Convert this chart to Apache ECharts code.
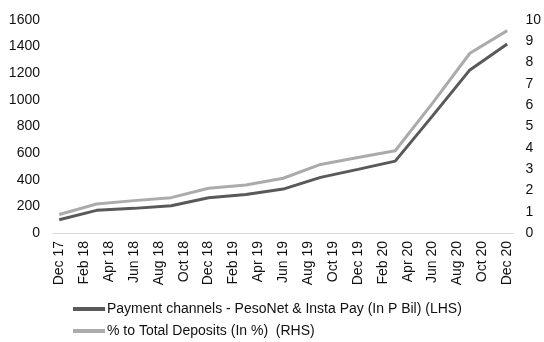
<!DOCTYPE html>
<html>
<head>
<meta charset="utf-8">
<script src="https://cdn.jsdelivr.net/npm/echarts@6/dist/echarts.min.js"></script>
<style>
  html, body { margin: 0; padding: 0; background: #fff; }
  #chart { width: 544px; height: 342px; }
</style>
</head>
<body>
<div id="chart"></div>
<script>
// Monthly axis, Dec 2017 – Dec 2020
const monthNames = ['Jan','Feb','Mar','Apr','May','Jun','Jul','Aug','Sep','Oct','Nov','Dec'];
const months = [];
for (let i = 0; i < 37; i++) {
  const m = (11 + i) % 12;
  const y = 17 + Math.floor((11 + i) / 12);
  months.push(monthNames[m] + ' ' + y);
}

// Quarterly observations (Dec 17 ... Dec 20)
const quarters = ['Dec 17','Mar 18','Jun 18','Sep 18','Dec 18','Mar 19','Jun 19',
                  'Sep 19','Dec 19','Mar 20','Jun 20','Sep 20','Dec 20'];
const paymentChannels = [100, 170, 185, 205, 265, 290, 330, 418, 478, 540, 880, 1225, 1420];
const pctDeposits = [0.87, 1.36, 1.52, 1.66, 2.1, 2.25, 2.57, 3.22, 3.54, 3.86, 6.1, 8.44, 9.5];

const leftTicks = { min: 0, max: 1600, interval: 200 };
const rightTicks = { min: 0, max: 10, interval: 1 };

function toMonthly(vals) {
  const out = months.map(() => null);
  quarters.forEach((q, i) => { out[months.indexOf(q)] = vals[i]; });
  return out;
}

const font = 'Liberation Sans, Arial, sans-serif';
const fs = 14;
const chart = echarts.init(document.getElementById('chart'));
chart.setOption({
  animation: false,
  textStyle: { fontFamily: font },
  grid: { left: 53, right: 29, top: 20, bottom: 109 },
  legend: {
    orient: 'vertical',
    left: 73,
    top: 302,
    padding: 0,
    itemWidth: 32,
    itemHeight: 4,
    itemGap: 8,
    icon: 'rect',
    textStyle: { fontFamily: font, fontSize: fs, color: '#111', padding: [0, 0, 0, -3] },
    data: ['Payment channels - PesoNet & Insta Pay (In P Bil) (LHS)', '% to Total Deposits (In %)  (RHS)']
  },
  xAxis: {
    type: 'category',
    data: months,
    boundaryGap: true,
    axisLine: { lineStyle: { color: '#d9d9d9', width: 1 } },
    axisTick: { interval: 1, length: 5, lineStyle: { color: '#d9d9d9' } },
    axisLabel: { interval: 1, rotate: 90, margin: 8, fontSize: fs, color: '#111', fontFamily: font }
  },
  yAxis: [
    {
      type: 'value', min: leftTicks.min, max: leftTicks.max, interval: leftTicks.interval,
      splitLine: { show: false }, axisLine: { show: false }, axisTick: { show: false },
      axisLabel: { margin: 13, fontSize: fs, color: '#111', fontFamily: font,
                   formatter: v => String(v) }
    },
    {
      type: 'value', min: rightTicks.min, max: rightTicks.max, interval: rightTicks.interval,
      splitLine: { show: false }, axisLine: { show: false }, axisTick: { show: false },
      axisLabel: { margin: 12, fontSize: fs, color: '#111', fontFamily: font }
    }
  ],
  series: [
    {
      name: 'Payment channels - PesoNet & Insta Pay (In P Bil) (LHS)',
      type: 'line', yAxisIndex: 0, data: toMonthly(paymentChannels),
      connectNulls: true, showSymbol: false, symbol: 'none',
      itemStyle: { color: '#595959' },
      lineStyle: { color: '#595959', width: 3 }
    },
    {
      name: '% to Total Deposits (In %)  (RHS)',
      type: 'line', yAxisIndex: 1, data: toMonthly(pctDeposits),
      connectNulls: true, showSymbol: false, symbol: 'none',
      itemStyle: { color: '#ababab' },
      lineStyle: { color: '#ababab', width: 3 }
    }
  ]
});
</script>
</body>
</html>
